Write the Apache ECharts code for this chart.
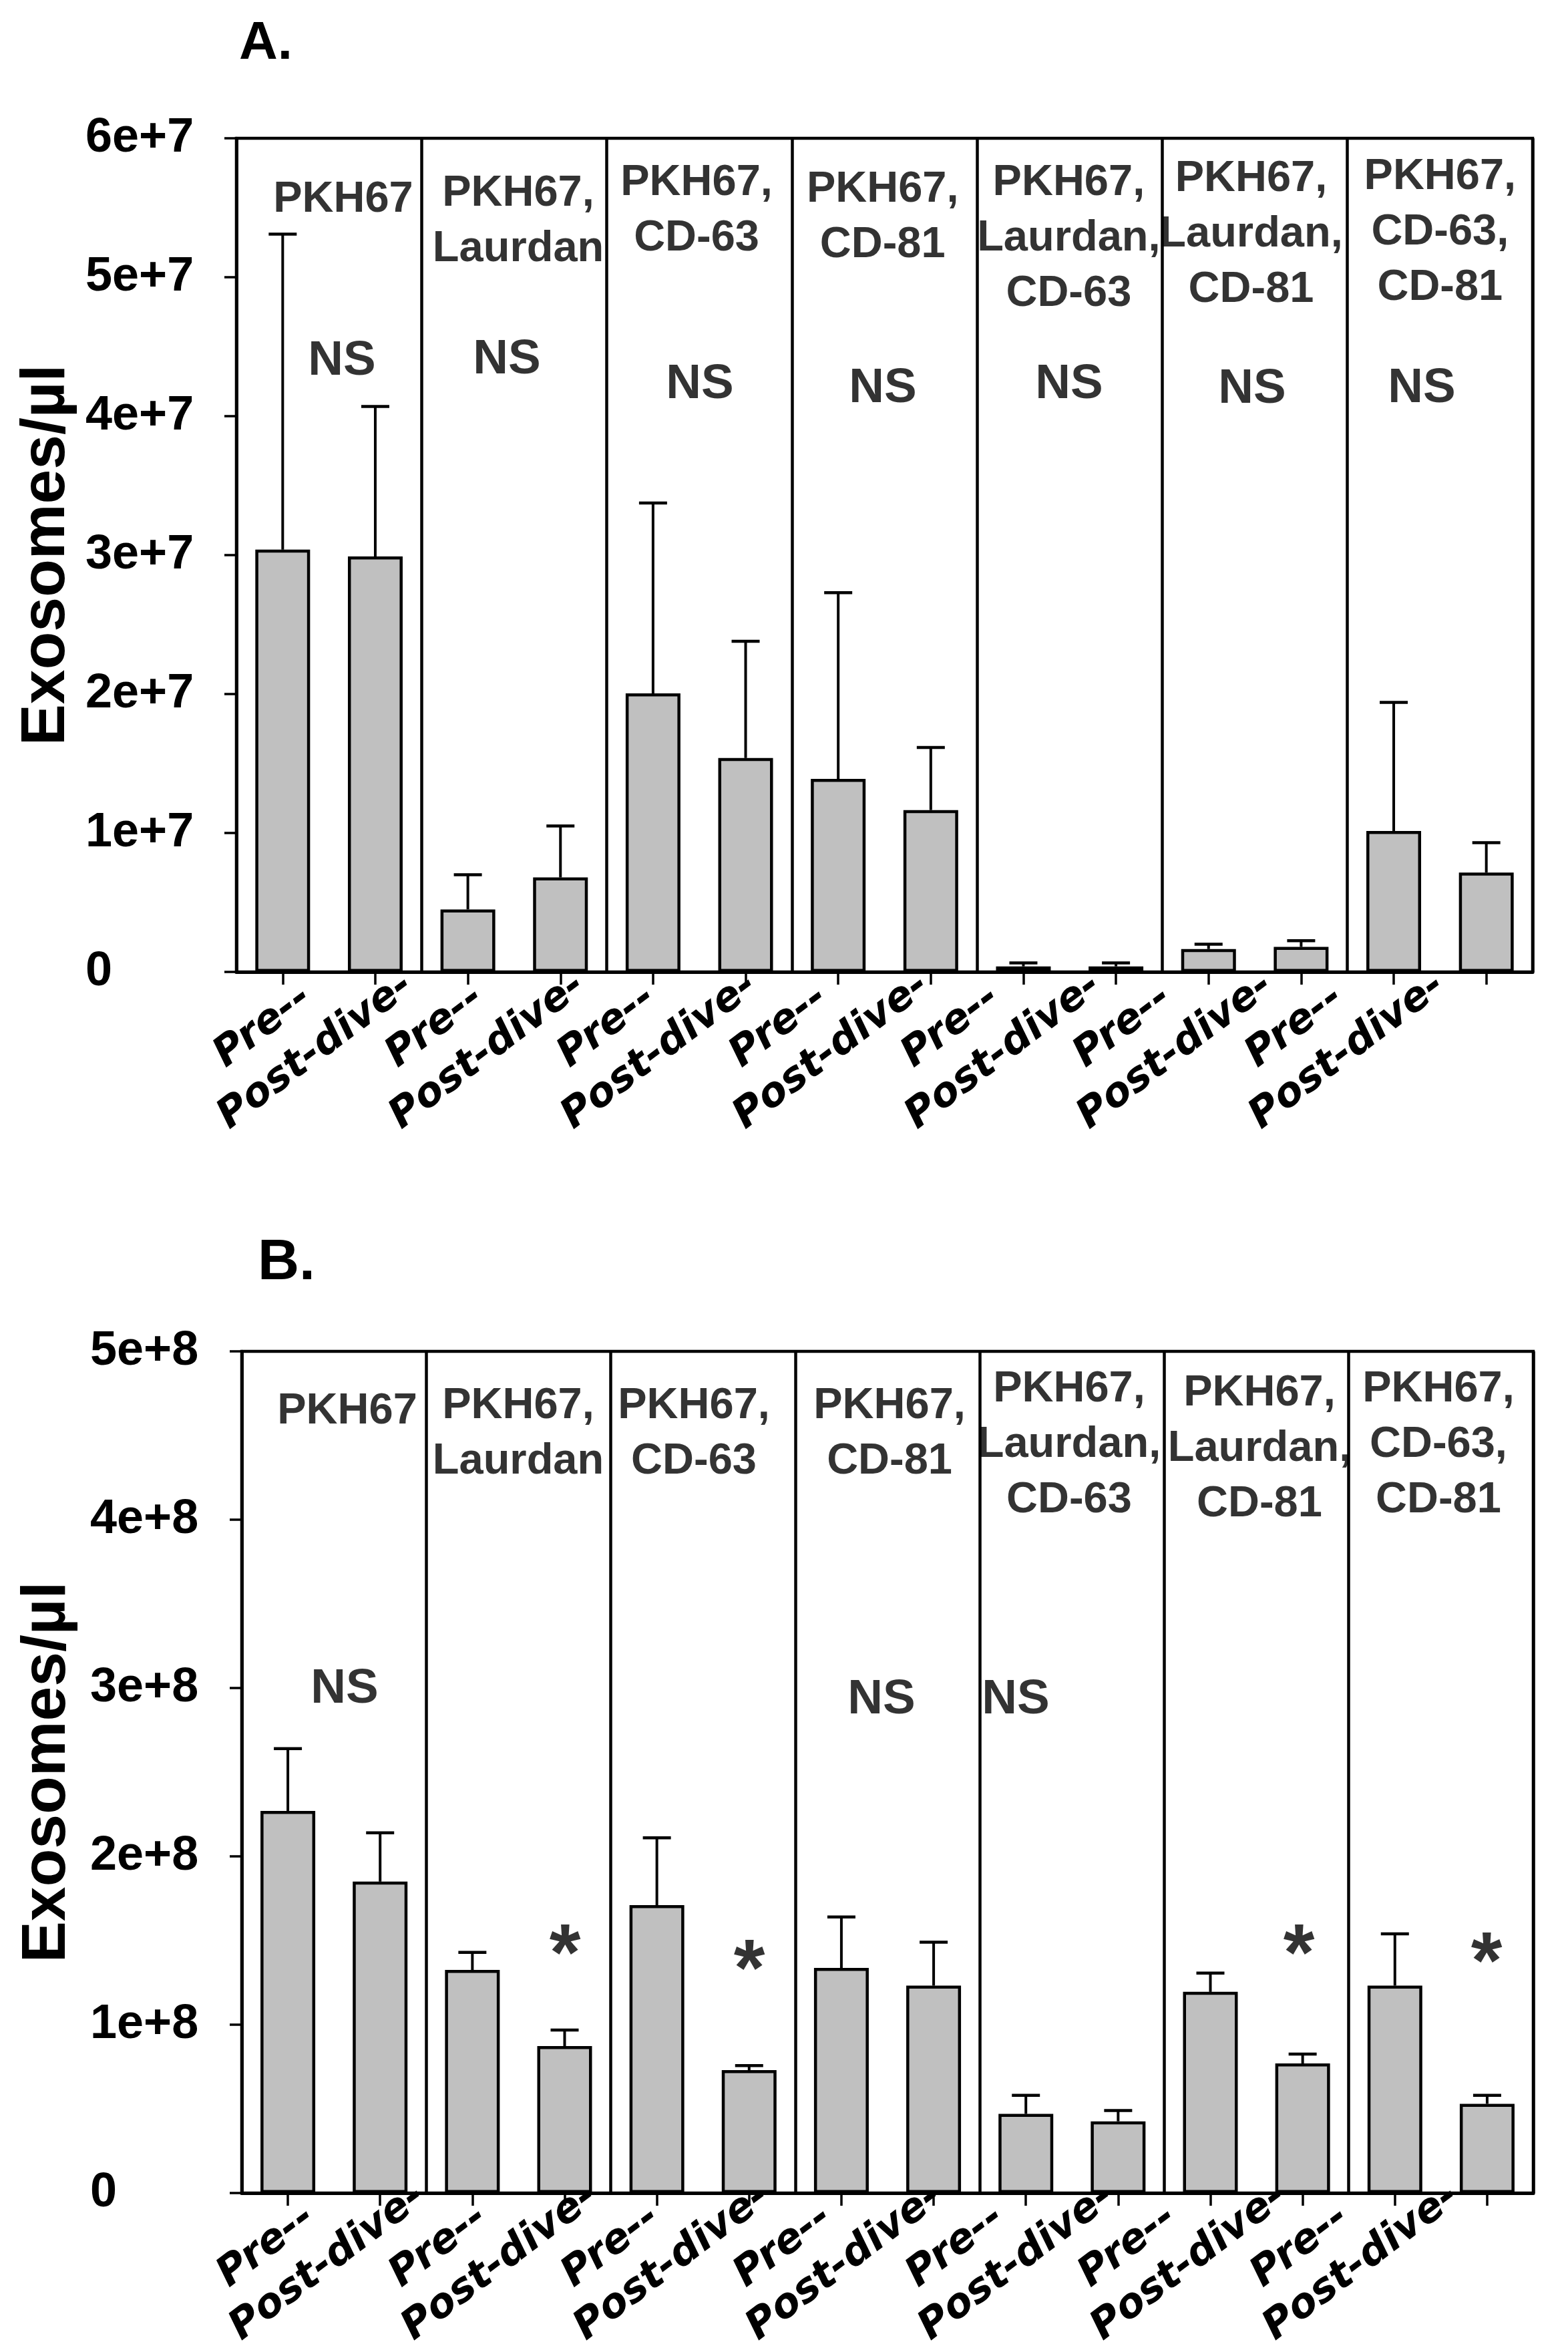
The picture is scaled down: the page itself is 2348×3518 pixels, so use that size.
<!DOCTYPE html>
<html>
<head>
<meta charset="utf-8">
<script src="https://cdn.jsdelivr.net/npm/echarts@6/dist/echarts.min.js"></script>
<style>html,body{margin:0;padding:0;background:#fff}#c{width:2348px;height:3518px}</style>
</head>
<body>
<div id="c"></div>
<script>
// ---------- data ----------
const categories = ['Pre--','Post-dive-','Pre--','Post-dive-','Pre--','Post-dive-','Pre--','Post-dive-','Pre--','Post-dive-','Pre--','Post-dive-','Pre--','Post-dive-'];
const groupNames = ['PKH67','PKH67,\nLaurdan','PKH67,\nCD-63','PKH67,\nCD-81','PKH67,\nLaurdan,\nCD-63','PKH67,\nLaurdan,\nCD-81','PKH67,\nCD-63,\nCD-81'];
const preLabels = ['Pre--','Pre--','Pre--','Pre--','Pre--','Pre--','Pre--'];
const postLabels = ['Post-dive-','Post-dive-','Post-dive-','Post-dive-','Post-dive-','Post-dive-','Post-dive-'];

// Panel A (Exosomes/µl)
const meanA = [3.04e7, 2.99e7, 0.45e7, 0.68e7, 2.005e7, 1.54e7, 1.39e7, 1.165e7, 0.04e7, 0.04e7, 0.165e7, 0.18e7, 1.015e7, 0.715e7];
const errA  = [2.27e7, 1.08e7, 0.25e7, 0.37e7, 1.37e7, 0.84e7, 1.34e7, 0.45e7, 0.025e7, 0.025e7, 0.035e7, 0.045e7, 0.925e7, 0.215e7];
const yTicksA = [0, 1e7, 2e7, 3e7, 4e7, 5e7, 6e7];

// Panel B (Exosomes/µl)
const meanB = [2.27e8, 1.85e8, 1.325e8, 0.873e8, 1.71e8, 0.73e8, 1.337e8, 1.232e8, 0.47e8, 0.426e8, 1.195e8, 0.77e8, 1.232e8, 0.53e8];
const errB  = [0.37e8, 0.29e8, 0.105e8, 0.095e8, 0.40e8, 0.027e8, 0.303e8, 0.258e8, 0.11e8, 0.064e8, 0.112e8, 0.055e8, 0.308e8, 0.05e8];
const yTicksB = [0, 1e8, 2e8, 3e8, 4e8, 5e8];

// annotations (x in category units 0..14, y in data units)
const groupPosA = [[1.154,5.759e7],[3.044,5.802e7],[4.97,5.875e7],[6.98,5.831e7],[8.99,5.875e7],[10.96,5.908e7],[13.0,5.918e7]];
const nsPosA = [[1.140,4.393e7],[2.921,4.403e7],[5.006,4.225e7],[6.982,4.196e7],[8.994,4.225e7],[10.971,4.191e7],[12.803,4.196e7]];
const groupPosB = [[1.144,4.808e8],[2.997,4.839e8],[4.901,4.839e8],[7.022,4.839e8],[8.969,4.938e8],[11.032,4.915e8],[12.972,4.938e8]];
const nsPosB = [[1.115,2.992e8],[6.935,2.929e8],[8.390,2.929e8]];
const starPosB = [[3.504,1.397e8],[5.502,1.306e8],[11.459,1.397e8],[13.494,1.349e8]];

// ---------- styles ----------
const SANS = '"Liberation Sans", Arial, sans-serif';
const WIDE = '"DejaVu Sans", Verdana, sans-serif';

function fmtSci(v){
  if (v === 0) return '0';
  const k = Math.floor(Math.log10(v) + 1e-9);
  const m = Math.round(v / Math.pow(10, k));
  return m + 'e+' + k;
}

function errRender(params, api){
  const x = api.value(0), m = api.value(1), e = api.value(2);
  const p0 = api.coord([x, m]);
  const p1 = api.coord([x, m + e]);
  const hw = 21;
  return {type:'group', children:[
    {type:'line', shape:{x1:p0[0], y1:p0[1], x2:p1[0], y2:p1[1]}, style:{stroke:'#000', lineWidth:4}},
    {type:'line', shape:{x1:p1[0]-hw, y1:p1[1], x2:p1[0]+hw, y2:p1[1]}, style:{stroke:'#000', lineWidth:4.5}}
  ]};
}

function mainAxes(gridIndex, yMax, yInt, labelMargin, nameGap){
  return {
    x: [
      {gridIndex, type:'category', data:categories, boundaryGap:true,
       axisLine:{show:true, lineStyle:{color:'#000', width:5}},
       axisTick:{show:true, alignWithLabel:true, length:19, lineStyle:{color:'#000', width:3.5}},
       axisLabel:{show:false}, splitLine:{show:false}},
      {gridIndex, type:'value', min:0, max:14, interval:2, position:'top',
       axisLine:{show:false}, axisTick:{show:false}, axisLabel:{show:false},
       splitLine:{show:true, lineStyle:{color:'#000', width:4.5}}}
    ],
    y: {gridIndex, type:'value', min:0, max:yMax, interval:yInt,
        axisLine:{show:true, lineStyle:{color:'#000', width:4.5}},
        axisTick:{show:true, length:18, lineStyle:{color:'#000', width:3.5}},
        axisLabel:{formatter:fmtSci, align:'left', margin:labelMargin, fontSize:72, fontWeight:'bold', color:'#000', fontFamily:SANS},
        splitLine:{show:false},
        name:'Exosomes/µl', nameLocation:'middle', nameRotate:90, nameGap:nameGap,
        nameTextStyle:{fontSize:93, fontWeight:'bold', color:'#000', fontFamily:SANS}}
  };
}

function labelAxis(gridIndex, labels, margin){
  return {gridIndex, type:'category', data:labels, boundaryGap:true,
    axisLine:{show:false}, axisTick:{show:false}, splitLine:{show:false},
    axisLabel:{show:true, interval:0, rotate:37, margin:margin, fontSize:61, fontWeight:'bold', fontStyle:'italic', color:'#000', fontFamily:WIDE}};
}

const A = mainAxes(0, 6e7, 1e7, 226, 236);
const B = mainAxes(3, 5e8, 1e8, 227, 244);

function textScatter(xIdx, yIdx, pos, texts, size, vAlign, lh){
  return {type:'scatter', xAxisIndex:xIdx, yAxisIndex:yIdx, symbolSize:0, silent:true, z:5,
    data: pos.map((p,i)=>({value:p, name: texts[i]})),
    label:{show:true, position:[0,0], align:'center', verticalAlign:vAlign, formatter:(p)=>p.name,
      fontSize:size, fontWeight:'bold', color:'#000', fontFamily:SANS, lineHeight:lh}};
}

const option = {
  animation:false,
  backgroundColor:'#fff',
  grid:[
    {left:354, top:207, width:1941, height:1248, show:true, borderColor:'#000', borderWidth:4.5, backgroundColor:'transparent'},
    {left:460-128.75, top:1397, width:1802.5, height:58},
    {left:612-128.75, top:1397, width:1802.5, height:58},
    {left:362, top:2023, width:1934, height:1260, show:true, borderColor:'#000', borderWidth:4.5, backgroundColor:'transparent'},
    {left:465-129, top:3225, width:1806, height:58},
    {left:630-129, top:3225, width:1806, height:58}
  ],
  xAxis:[
    A.x[0], A.x[1],
    labelAxis(1, preLabels, 32),
    labelAxis(2, postLabels, 14),
    B.x[0], B.x[1],
    labelAxis(4, preLabels, 30),
    labelAxis(5, postLabels, 14)
  ],
  yAxis:[
    A.y,
    {gridIndex:1, type:'value', show:false},
    {gridIndex:2, type:'value', show:false},
    B.y,
    {gridIndex:4, type:'value', show:false},
    {gridIndex:5, type:'value', show:false}
  ],
  graphic:[
    {type:'text', left:358, top:26, style:{text:'A.', fontSize:80, fontWeight:'bold', fill:'#000', fontFamily:SANS}},
    {type:'text', left:386, top:1848, style:{text:'B.', fontSize:86, fontWeight:'bold', fill:'#000', fontFamily:SANS}}
  ],
  series:[
    {type:'bar', xAxisIndex:0, yAxisIndex:0, data:meanA, barWidth:82, silent:true,
     itemStyle:{color:'#c0c0c0', borderColor:'#000', borderWidth:4.5}},
    {type:'custom', xAxisIndex:0, yAxisIndex:0, data:meanA.map((m,i)=>[i,m,errA[i]]), renderItem:errRender, silent:true, z:3},
    textScatter(1, 0, groupPosA, groupNames, 65, 'top', 83),
    textScatter(1, 0, nsPosA, nsPosA.map(()=> 'NS'), 73, 'middle', 80),

    {type:'bar', xAxisIndex:4, yAxisIndex:3, data:meanB, barWidth:82, silent:true,
     itemStyle:{color:'#c0c0c0', borderColor:'#000', borderWidth:4.5}},
    {type:'custom', xAxisIndex:4, yAxisIndex:3, data:meanB.map((m,i)=>[i,m,errB[i]]), renderItem:errRender, silent:true, z:3},
    textScatter(5, 3, groupPosB, groupNames, 65, 'top', 83),
    textScatter(5, 3, nsPosB, nsPosB.map(()=> 'NS'), 73, 'middle', 80),
    textScatter(5, 3, starPosB, starPosB.map(()=> '*'), 120, 'middle', 120)
  ]
};

const chart = echarts.init(document.getElementById('c'), null, {renderer:'canvas'});
chart.setOption(option);
</script>
</body>
</html>
